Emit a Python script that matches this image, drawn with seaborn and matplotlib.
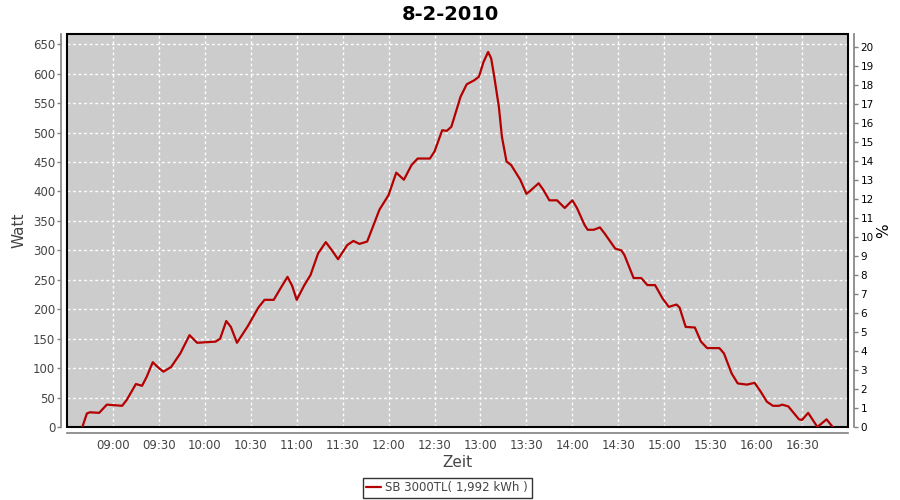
import matplotlib
matplotlib.use("Agg")
import matplotlib.pyplot as plt
from matplotlib.patches import Rectangle
import seaborn as sns
import pandas as pd

title = "8-2-2010"
series_name = "SB 3000TL( 1,992 kWh )"
times = ["08:40","08:43","08:45","08:51","08:56","09:06","09:09","09:15","09:19","09:22",
         "09:26","09:30","09:33","09:38","09:44","09:50","09:55","10:07","10:10","10:14",
         "10:17","10:21","10:28","10:35","10:39","10:45","10:50","10:54","10:57","11:00",
         "11:05","11:09","11:14","11:19","11:23","11:27","11:33","11:37","11:41","11:46",
         "11:49","11:54","12:00","12:05","12:10","12:15","12:19","12:27","12:30","12:35",
         "12:38","12:41","12:47","12:51","12:56","12:59","13:02","13:05","13:07","13:09",
         "13:12","13:14","13:17","13:20","13:26","13:30","13:32","13:38","13:41","13:45",
         "13:50","13:55","14:00","14:03","14:08","14:10","14:14","14:18","14:21","14:28",
         "14:32","14:34","14:40","14:45","14:49","14:54","14:59","15:03","15:08","15:10",
         "15:14","15:20","15:24","15:28","15:36","15:39","15:44","15:48","15:54","15:59",
         "16:03","16:07","16:11","16:15","16:17","16:21","16:28","16:30","16:34","16:37",
         "16:40","16:46","16:50"]
watts = [0,23,25,24,38,36,46,73,70,85,
         110,100,94,102,125,156,143,145,150,180,
         170,143,171,203,216,216,238,255,240,216,
         241,258,295,314,300,285,309,316,311,315,
         335,369,394,432,420,445,456,456,468,504,
         503,510,561,582,589,595,620,637,626,595,
         544,493,451,445,420,396,400,414,403,385,
         385,372,385,372,343,335,335,339,329,303,
         300,292,253,253,241,241,218,204,208,203,
         170,169,145,134,134,125,91,74,72,75,
         60,43,36,36,38,35,13,12,24,12,
         0,13,0]
xtick_labels = ["09:00","09:30","10:00","10:30","11:00","11:30","12:00","12:30",
                "13:00","13:30","14:00","14:30","15:00","15:30","16:00","16:30"]
watt_ticks = list(range(0, 651, 50))
pct_ticks = list(range(0, 21))

day = "2010-02-08 "
df = pd.DataFrame({"Zeit": pd.to_datetime([day + t for t in times]), "Watt": watts})

sns.set_theme(style="white")
plt.rcParams["font.family"] = ["DejaVu Sans"]

fig = plt.figure(figsize=(9, 5), dpi=100)
ax = fig.add_axes([67/900, 1-427/500, (848-67)/900, (427-34)/500])
ax.set_facecolor("#cccccc")

sns.lineplot(data=df, x="Zeit", y="Watt", ax=ax, color="#b40000", linewidth=1.6,
             label=series_name, legend=False, zorder=5)

ax.set_xlim(pd.Timestamp(day + "08:30"), pd.Timestamp(day + "17:00"))
ax.set_ylim(0, 667.5)
ax.set_xticks(pd.to_datetime([day + t for t in xtick_labels]))
ax.set_xticklabels(xtick_labels)
ax.set_yticks(watt_ticks)

ax.grid(True, color="white", linestyle=(0, (2, 2)), linewidth=1.0)
ax.set_axisbelow(True)

gray = "#808080"
txt = "#444444"
for s in ["left", "bottom"]:
    ax.spines[s].set_position(("outward", 4))
    ax.spines[s].set_color(gray)
    ax.spines[s].set_linewidth(1.2)
for s in ["top", "right"]:
    ax.spines[s].set_visible(False)
ax.add_patch(Rectangle((0, 0), 1, 1, transform=ax.transAxes, fill=False,
                       edgecolor="black", linewidth=1.5, zorder=4, clip_on=False))

ax.tick_params(axis="both", direction="out", length=3, width=1, color=gray,
               labelsize=8.5, labelcolor=txt, pad=1.5)
ax.set_xlabel("Zeit", fontsize=11, color=txt, labelpad=2)
ax.set_ylabel("Watt", fontsize=11, color=txt, labelpad=5)

ax2 = ax.twinx()
ax2.set_ylim(0, 20.68)
ax2.set_yticks(pct_ticks)
for s in ["left", "bottom", "top"]:
    ax2.spines[s].set_visible(False)
ax2.spines["right"].set_position(("outward", 4))
ax2.spines["right"].set_color(gray)
ax2.spines["right"].set_linewidth(1.2)
ax2.tick_params(axis="y", direction="out", length=3, width=1, color=gray,
                labelsize=7.5, labelcolor="black", pad=2)
ax2.set_ylabel("%", fontsize=11, color="black", labelpad=2)
ax2.grid(False)

fig.suptitle(title, x=0.5, y=0.99, fontsize=14, fontweight="bold", color="black")

handles, labels = ax.get_legend_handles_labels()
leg = fig.legend(handles, labels, loc="lower center", bbox_to_anchor=(0.497, 0.0),
                 fontsize=8.5, frameon=True, fancybox=False, edgecolor="black",
                 handlelength=1.2, handletextpad=0.4, borderpad=0.3, borderaxespad=0.2)
leg.get_frame().set_linewidth(1.0)
for t in leg.get_texts():
    t.set_color(txt)

fig.savefig("out.png", dpi=100)
